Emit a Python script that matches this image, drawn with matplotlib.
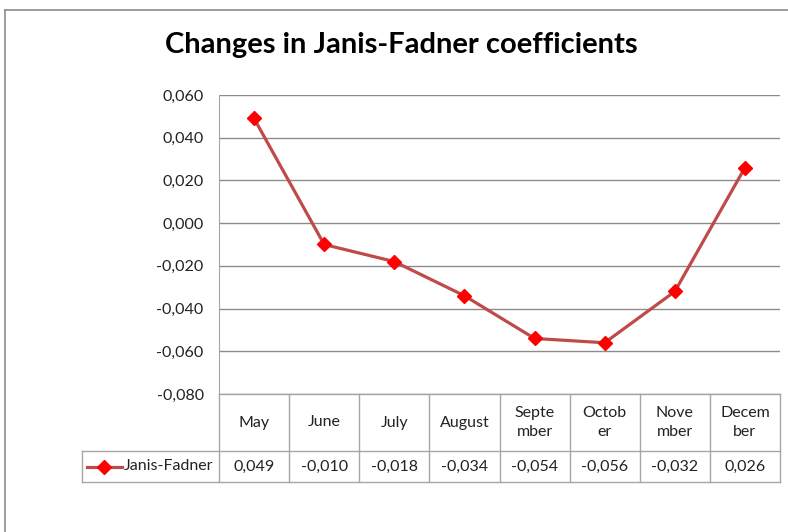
import matplotlib
matplotlib.use('Agg')
import matplotlib.pyplot as plt
from matplotlib.lines import Line2D
import matplotlib.transforms as mtransforms

# data
months = ['May', 'June', 'July', 'August', 'Septe\nmber', 'Octob\ner', 'Nove\nmber', 'Decem\nber']
values = [0.049, -0.010, -0.018, -0.034, -0.054, -0.056, -0.032, 0.026]
series_name = 'Janis-Fadner'
yticks = [-0.08, -0.06, -0.04, -0.02, 0.0, 0.02, 0.04, 0.06]

plt.rcParams['font.family'] = ['Lato', 'DejaVu Sans']

W, H = 788, 532
fig = plt.figure(figsize=(W / 100, H / 100), dpi=100)
fig.patch.set_facecolor('white')

# plot area in pixel coords
left, right, top, bottom = 219, 780, 95, 394
ax = fig.add_axes([left / W, 1 - bottom / H, (right - left) / W, (bottom - top) / H])

line_col = '#BE4B48'
grid_col = '#8C8C8C'
table_col = '#A6A6A6'
fs = 11.5

x = list(range(len(values)))
ax.plot(x, values, color=line_col, lw=2.3, marker='D', markersize=7,
        markerfacecolor='#FF0000', markeredgecolor='#FF0000', zorder=3)

ax.set_xlim(-0.5, len(values) - 0.5)
ax.set_ylim(yticks[0], yticks[-1])
ax.set_yticks(yticks)
ax.set_yticklabels([f'{v:.3f}'.replace('.', ',') for v in yticks], fontsize=fs, color='#222222')
ax.set_xticks([])
ax.tick_params(axis='y', length=0, pad=11)
for s in ['top', 'right', 'bottom']:
    ax.spines[s].set_visible(False)
ax.spines['left'].set_color(table_col)
ax.yaxis.grid(True, color=grid_col, lw=1)
ax.set_axisbelow(True)

# data table below the plot
ah = bottom - top
hdr_bot = (bottom - 451) / ah
row_bot = (bottom - 482) / ah
leg_left = (82 - left) / (right - left)
tr = mtransforms.blended_transform_factory(ax.transData, ax.transAxes)

def hline(x0, x1, y, transform):
    ax.add_line(Line2D([x0, x1], [y, y], color=table_col, lw=1, transform=transform, clip_on=False))

def vline(xv, y0, y1, transform):
    ax.add_line(Line2D([xv, xv], [y0, y1], color=table_col, lw=1, transform=transform, clip_on=False))

n = len(values)
hline(-0.5, n - 0.5, 0, tr)
hline(leg_left, 1, hdr_bot, ax.transAxes)
hline(leg_left, 1, row_bot, ax.transAxes)
for i in range(n + 1):
    vline(i - 0.5, 0, row_bot, tr)
vline(leg_left, hdr_bot, row_bot, ax.transAxes)

for i, (m, v) in enumerate(zip(months, values)):
    ax.text(i, hdr_bot / 2, m, transform=tr, ha='center', va='center',
            fontsize=fs, color='#222222', linespacing=1.4, clip_on=False)
    ax.text(i, (hdr_bot + row_bot) / 2, f'{v:.3f}'.replace('.', ','), transform=tr,
            ha='center', va='center', fontsize=fs, color='#222222', clip_on=False)

# legend key in the table
ymid = (hdr_bot + row_bot) / 2
kx0 = (87 - left) / (right - left)
kx1 = (122 - left) / (right - left)
ax.add_line(Line2D([kx0, kx1], [ymid, ymid], color=line_col, lw=2.3, transform=ax.transAxes, clip_on=False))
ax.add_line(Line2D([(kx0 + kx1) / 2], [ymid], marker='D', markersize=7, color='#FF0000',
                   transform=ax.transAxes, clip_on=False))
ax.text((124 - left) / (right - left), ymid, series_name, transform=ax.transAxes,
        ha='left', va='center', fontsize=fs, color='#222222', clip_on=False)

# title
fig.text(401 / W, 1 - 45 / H, 'Changes in Janis-Fadner coefficients', ha='center', va='center',
         fontsize=21, fontweight='bold', color='black')

# chart border
fig.add_artist(Line2D([5 / W, 1], [1 - 10 / H, 1 - 10 / H], color='#8C8C8C', lw=1.2, transform=fig.transFigure))
fig.add_artist(Line2D([5 / W, 5 / W], [0, 1 - 10 / H], color='#8C8C8C', lw=1.2, transform=fig.transFigure))

fig.savefig('out.png', dpi=100)
